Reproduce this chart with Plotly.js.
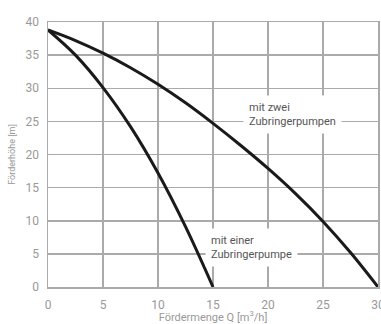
<!DOCTYPE html>
<html><head><meta charset="utf-8">
<script src="https://cdn.plot.ly/plotly-3.0.1.min.js"></script>
<style>html,body{margin:0;padding:0;background:#fff}</style>
</head><body>
<div id="chart" style="width:381px;height:324px"></div>
<script>
const flowTwo = [0, 2.5, 5, 7.5, 10, 12.5, 15, 17.5, 20, 22.5, 25, 27.5, 30];
const headTwo = [38.8, 37.2, 35.3, 33.1, 30.6, 27.8, 24.7, 21.4, 17.9, 14.1, 9.9, 5.2, 0];
const flowOne = [0, 2.5, 5, 7.5, 10, 12.5, 15];
const headOne = [38.8, 35.0, 30.1, 24.2, 17.2, 9.1, 0];
const labelTwo = "mit zwei<br>Zubringerpumpen";
const labelOne = "mit einer<br>Zubringerpumpe";
const xTitle = "Fördermenge Q [m<sup>3</sup>/h]";
const yTitle = "Förderhöhe [m]";

const font = "Roboto, sans-serif";
const lineStyle = {color: "#1a1a1a", width: 3, shape: "spline", smoothing: 1};
const traces = [
  {x: flowTwo, y: headTwo, mode: "lines", line: lineStyle, hoverinfo: "skip"},
  {x: flowOne, y: headOne, mode: "lines", line: lineStyle, hoverinfo: "skip"}
];
const layout = {
  width: 381, height: 324,
  margin: {l: 48, r: 3, t: 22, b: 37},
  paper_bgcolor: "#fff", plot_bgcolor: "#fff",
  showlegend: false,
  font: {family: font, color: "#999", size: 12},
  xaxis: {
    range: [0, 30], tickvals: [0, 5, 10, 15, 20, 25, 30],
    showgrid: true, gridcolor: "#aaa", gridwidth: 1.5,
    zeroline: false, showline: true, linecolor: "#aaa", linewidth: 1.5, mirror: true,
    ticks: "", ticklabelstandoff: 6, ticklabeloverflow: "allow",
    tickfont: {family: font, size: 12, color: "#999"},
    title: {text: xTitle, font: {family: font, size: 11, color: "#999"}, standoff: 4}
  },
  yaxis: {
    range: [0, 40], tickvals: [0, 5, 10, 15, 20, 25, 30, 35, 40],
    showgrid: true, gridcolor: "#aaa", gridwidth: 1.5,
    zeroline: false, showline: true, linecolor: "#aaa", linewidth: 1.5, mirror: true,
    ticks: "", ticklabelstandoff: 5,
    tickfont: {family: font, size: 12, color: "#999"},
    title: {text: yTitle, font: {family: font, size: 9, color: "#999"}, standoff: 8}
  },
  annotations: [
    {x: 22.2, y: 26.1, xref: "x", yref: "y", text: labelTwo, showarrow: false,
     align: "left", bgcolor: "#fff", borderpad: 5,
     font: {family: font, size: 11, color: "#555"}},
    {x: 18.5, y: 6.0, xref: "x", yref: "y", text: labelOne, showarrow: false,
     align: "left", bgcolor: "#fff", borderpad: 5,
     font: {family: font, size: 11, color: "#555"}}
  ]
};
Plotly.newPlot("chart", traces, layout, {displayModeBar: false, staticPlot: true});
</script>
</body></html>
